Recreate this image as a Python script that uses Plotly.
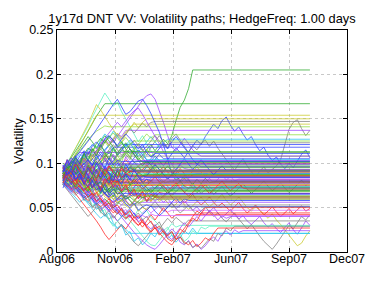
import plotly.graph_objects as go

# Time grid (days): path samples every STEP days from DAY0; frozen paths held to END_DAY
DAY0 = 10
STEP = 7
END_DAY = 423
X_TICK_DAYS = [0, 97, 194, 291, 388, 485]
X_TICK_LABELS = ["Aug06", "Nov06", "Feb07", "Jun07", "Sep07", "Dec07"]
Y_TICKS = [0, 0.05, 0.1, 0.15, 0.2, 0.25]
Y_TICK_LABELS = ["0", "0.05", "0.1", "0.15", "0.2", "0.25"]

# Volatility paths in thousandths (0.085 -> 85); last value = frozen level
blue_paths = [
    [92,97,102,96,104,110,103,98,106,113,107,101,95,100,94,89,95,101,96,90,96,102,108,103,97,104,111,117,112,106,
     113,120,126,121,130,137,144,139,148,152,143,136,141,133,126,130,121,114,118,109,103,107,99,94,100,95,102,110,115,106],
    [90,96,101,95,100,106,112,107,113,119,114,120,126,118,121],
    [86,91,97,103,98,104,110,105,99,106,113,111,118],
    [84,88,94,99,93,87,92,98,104,110,104,98,103,109,115,121,116,110,115,109,103,98,104,110,105],
    [92,88,83,87,92,97,91,86,80,85,90,95,89,84,88,94,100,106,112,106,100,105,111,117,122,116,124,130,124,117,111,104,99,96],
    [88,94,100,106,112,118,125,131,138,145,152,160,166,172,163,155,158,164,170,172,165,156,146,135,121,104,88],
    [80,76,71,75,70,74,79,73,77,78],
    [82,77,72,76,70,65,69,63,58,62,67,61,56,60,65,59,63,65],
    [95,100,94,89,94,100,94,88,83,88,94,89,84,79,84,90,96,91,86,81,86,92,98,93,88,82,87,93,99,105,99,93,98,104,98,92,87,92,97,92,92],
    [85,80,86,81,75,70,75,81,76,71,66,71,77,72,67,62,67,73,79,74,69,72],
    [78,73,68,72,66,61,65,59,54,58,52,47,51,45,40,44,49,43,38,42,47,52,46,41,45,51,56,61,55,60,58],
    [88,83,78,82,87,92,86,81,75,80,85,90,84,79,83,88,82,77,81,86,84],
    [96,101,106,100,95,99,104,99],
    [72,84,76,90,81,95,86,79,92,84,97,88,80,93,86,99,90,91],
    [98,86,94,81,89,76,85,72,80,67,76,64,71,66],
    [90,104,95,108,99,113,103,97,109,101,94,106,98,103,102],
    [80,92,85,97,88,82,95,87,100,91,84,78,89,83,76,88,81,93,85,79,82,80],
    [94,88,91,82,85,78,74,79,70,73,65,62,67,58,61,54,50,55,47,51,53,51],
    [90,97,103,99,108,114,110,119,124,118,127,131,125,120,127,133,128,122,116,121,112,107,111],
]
green_paths = [
    [88,93,98,92,97,103,108,102,96,101,107,112,106,100,105,111,116,110,104,109,115,121,114,120,127,122,131,148,163,171,184,205],
    [92,99,106,113,121,128,136,145,153,160,167],
    [80,85,79,74,78,83,77,72,76,81,86,80,75,70,74,79,84,78,73,77,82,76,71,75,80,74,69,73,78,83,
     77,72,67,71,76,70,65,69,74,68,63,67,72,77,71,66,70,75,80,74,69,73,78,72,67,71,76,81,75,79],
    [88,93,87,92,98,103,97,91,96,102,108,114,108,102,107,113,107,101,102],
    [95,89,94,88,82,87,81,76,80,85,90,84,79,74,79,84,90,95,89,84,88,94,99,93,88,82,87,81,84],
    [80,75,79,73,68,72,67,71,70],
    [83,78,73,77,72,67,62,66,61,56,60,55,50,54,59,63,58,53,57,62,57,60,61],
    [88,95,102,109,116,123,130,124,117,124,131,125,118,111,117,123,116,109,103,97,103,98,92,86,91,97,91,85,80,86,81,76,82,77,83,78,79],
    [84,89,94,99,93,88,92,97,102,96,91,95,95],
    [90,85,80,75,79,74,69,73,78,72,67,71,76,81,75,70,74,79,84,78,73,67,72,77,71,66,70,75,80,74,72,73],
    [88,100,92,106,97,111,102,116,108,121,112,104,117,109,114,113],
    [76,88,80,73,85,77,69,81,73,66,78,70,62,74,67,71,69],
    [92,80,88,95,84,91,78,86,93,82,89,77,85,92,81,87,75,83,90,86,87],
    [84,96,89,101,93,86,98,90,83,95,88,80,92,85,97,89,94,92],
    [100,95,97,88,91,84,80,85,76,79,71,68,73,65,67,60,62,58,64,61,63],
    [86,93,99,106,101,110,117,113,122,128,123,131,126,119,124,116,110,114,106,101],
]
red_paths = [
    [90,94,88,83,87,80,76,81,85,78,72,76,70,65,69,74,68,63,67,61,66,71,64,59,63,68,62,57,61,55,
     60,65,58,53,57,62,56,51,55,50,46,51,56,49,44,48,53,47,42,46,51,45,40,44,49,43,47,52,46,49],
    [90,95,89,94,100,106,100,94,99,104,110,104,98,93,98,104,98,92,97,100],
    [84,78,72,66,60,54,48,42,35,28,20,14,19,25,31,26,33,40,34,28,35,42,36,43,50,44,38,42],
    [92,86,91,85,80,84,78,83,77,72,76,71,74,75],
    [86,91,85,90,95,89,84,88,93,87,92,97,91,86,90,95,89,84,88,93,98,92,87,91,96,90,85,89,94,88,83,87,88],
    [79,74,79,84,78,73,67,62,66,71,65,60,55,59,64,58,52,57,62,68,62,57,62,67,66],
    [81,76,70,74,68,63,58,62,56,51,55,49,44,48,42,37,41,35,30,34,28,23,27,21,16,11,8,14,20,27,33,40,46,43,50],
    [88,84,80,85,79,81],
    [94,89,93,98,92,87,91,96,90,95,92],
    [83,88,82,77,81,86,80,75,70,74,79,84,78,73,68,72,77,82,76,71,75,80,85,79,74,69,73,78,72,67,63,67,72,76,71,66,70,75,80,74,69,73,77,72,71],
    [86,79,83,71,75,68,62,66,57,61,52,55,47,43,49,38,42,34,30,36,27,22,28,19,24,15,12,18,26,22,31,38,35,44],
    [92,104,96,89,101,93,86,98,90,82,94,86,79,91,84,88,86],
    [78,90,83,76,88,80,73,85,78,71,83,76,80,79],
    [96,85,92,80,88,76,84,72,81,69,77,84,73,80,69,76,64,71,60,68,57,65,62],
    [82,94,87,99,91,84,96,88,81,93,86,97,89,82,95,87,91,90],
    [88,83,78,82,73,69,74,64,67,59,55,60,50,53,46,42,47,38,41,33,30,35,26,29,22,18,23,14,17,11,8,13,6,10,16,13,21,27,27],
]
cyan_paths = [
    [84,89,95,100,94,99,105,111,105,110,116,121,115,109,114,120,126,120,113,118,124,130,124,118,123,127],
    [77,72,67,61,56,60,54,49,43,38,42,36,31,26,30,25,21],
    [88,93,98,92,97,102,96,97],
    [84,79,84,89,83,78,82,87,81,76,80,85,79,74,78,83,88,82,77,71,76,81,75,70,74,79,73,68,72,77,82,76,71,75,80,74,69,73,74],
    [76,81,86,80,75,79,84,89,83,78,73,77,82,76,71,75,80,85,79,74,78,83,88,82,77,79,80],
    [84,76,79,68,71,60,56,61,48,52,40,44,33,27,31,19,23,12,16,8,13,21,17,26,22,15,19,11,16,24,20,27,21],
    [90,102,95,88,100,92,85,97,89,82,94,87,91,88],
    [80,91,84,96,88,81,93,85,78,90,83,86,85],
    [96,85,93,81,89,77,86,74,82,70,79,67,75,71,73],
    [92,98,95,104,110,106,115,121,117,126,133,128,136,130,124,118,123,115,108,112,104],
]
aqua_paths = [
    [92,100,108,116,124,133,142,152,161,170,179,172,164,169,158,150,141,133,124,131,122,114,106,98,91,84,78,84,77,71,68],
    [80,74,79,73,67,71,65,59,63,57,51,55,49,43,47,41,35,29,23,17,12,8,7,13,19,25,32,28,30],
    [95,90,95,89,84,88,93,87,82,86,91,86],
    [90,86,91,91],
    [84,79,84,89,94,88,83,87,92,97,91,86,90,95,89,84,88,93,90,89],
    [78,90,82,95,87,80,92,84,96,88,81,93,86,79,91,84,88,87],
    [86,78,82,70,74,61,65,52,56,44,48,36,29,34,41,37,45,40,48,43,47,39,35,30,24,28,19,15,20,12,16,24,20,28,26,29],
    [92,81,88,76,84,72,80,68,77,65,73,69,71],
]
purple_paths = [
    [88,84,80,85,78,74,79,72,76,70,66,71,75,68,63,67,72,65,60,64,58,62,67,61,56,60,54,49,53,58,
     52,47,51,45,41,46,50,44,39,43,48,42,37,41,35,31,36,40,33,28,32,26,22,28,33,25,20,27,35,30],
    [86,92,97,103,98,104,110,116,110,117,123,129,123,130,137,144,151,158,165,171,176,178,172,160,146,131,118,114,121,128,122,115,111,108],
    [88,94,100,95,101,107,113,108,115,121,127,122,128,133,130,137],
    [92,99,104,108,112],
    [90,96,102,97,103,109,115,121,116,122,128,134,140,146,141,148,154,159,162,155,147,138,130,122,113,105,99,92,98,94,93],
    [78,73,77,71,66,61,65,59,54,48,52,46,41,35,39,33,28,22,17,12,8,5,3,8,14,20,26,21,27,33,28,34,40,35,41,47,42,36,41,38,40],
    [80,75,70,74,68,63,67,61,56,60,55,50,54,49,53,58,53,57,55,56],
    [87,82,86,91,85,80,84,89,86,85],
    [82,94,87,99,91,104,96,89,101,93,106,98,110,102,95,107,100,104,103],
    [88,82,85,74,78,70,66,71,61,64,56,52,58,47,50,43,39,44,34,37,30,26,31,22,26,18,14,20,11,8,13,5,9,3,7,13,17,12,20,24,19,25,22,24],
    [94,89,91,83,86,78,82,75,79,84,77,81,73,76,69,72,65,68,61,64,57,60,58,60],
    [76,87,80,92,84,77,89,81,74,86,79,83,82],
    [90,101,94,106,98,91,103,95,88,100,93,97,89,94,92],
]
magenta_paths = [
    [85,90,84,89,94,99,93,98,104,99,93,98,103,97,101,99],
    [76,71,66,70,64,59,63,57,52,56,50,45,49,44,40,44,39,35,39,44,49,44,48,52,47,45,47],
    [90,85,80,84,79,74,78,73,68,72,67,62,66,61,56,60,65,70,64,59,63,68,73,67,62,66,71,76,70,75,80,74,69,73,78,83,77,82,87,81,85,80,82],
    [92,97,91,86,90,84,79,83,78,73,77,82,76,71,75,80,74,79,84,78,76,76],
    [86,98,90,83,95,87,80,92,84,77,89,82,86,84],
    [80,75,78,70,66,71,62,65,58,54,59,50,53,47,43,48,40,44,38,41,39,43,41],
    [98,87,94,82,90,78,86,74,82,89,78,85,73,80,77],
]
yellow_paths = [
    [82,78,74,79,72,68,73,66,62,67,71,64,59,63,57,61,66,60,55,58,63,68,62,57,61,55,50,54,59,53,
     48,52,57,62,56,51,55,60,65,58,53,57,62,56,50,46,51,47,42,38,43,36,31,25,18,12,7,10,18,24],
    [86,94,102,111,119,128,137,146,154],
    [90,99,108,117,126,135,144,155,166,160,152,145,138,131,124,132,139,146,140,146,150],
    [85,91,97,103,97,104,111,105,112,119,126,120,127,134,128,135,140,144],
    [82,77,81,75,70,74,68,73,67,62,66,61,63],
    [88,93,87,82,86,91,85,80,84,89,94,88,83,77,82,87,92,86,81,85,90,95,89,84,79,83,88,93,87,82,86,91,96,90,85,89,84,86],
    [93,88,92,87,82,86,81,76,80,85,79,74,78,83,88,82,77,81,86,80,75,79,84,79],
    [84,96,88,101,92,105,97,110,101,94,107,99,92,104,96,100,98],
    [90,85,88,79,82,74,71,76,67,70,62,59,64,56,59,52,49,54,46,50,48,52,51],
    [76,88,81,73,85,78,70,82,75,68,80,73,77,76],
    [92,81,89,77,85,73,81,88,77,84,72,79,87,76,83,71,78,66,73,61,69,57,64,60],
]
lime_paths = [
    [88,95,102,108,114,120,126,132,136,139,142,141],
    [86,92,98,104,99,105,111,117,112,118,124,118,112,117,123,129,123,116,121,127,133,128,132],
    [88,83,88,82,77,81,86,80,75,79,84,78,73,77,82,76,77],
    [94,89,93,98,92,87,91,96,101,95,89,94,99,105,99,93,88,92,97,91,86,90,95,89,84,88,93,88,91,90],
    [87,82,77,81,75,70,74,69,64,68,72,67,69,68],
    [80,92,85,97,89,102,94,87,99,91,84,96,89,93,91],
    [94,89,92,83,86,79,75,80,71,74,66,63,68,60,63,56,53,58,55,57,59],
    [86,97,90,83,95,88,81,93,86,79,91,84,88,87],
    [88,100,93,105,97,110,102,95,107,99,112,104,97,109,101,114,106,119,111,104,116,108,112],
    [84,91,98,94,103,109,105,113,119,115,124,129,134,128,122,117,121,125],
]
gray_paths = [
    [85,90,96,92,100,95,104,99,92,97,103,108,100,112,118,110,104,115,122,116,109,118,125,131,124,117,128,133,126,119,
     112,120,115,122,126,119,125,117,110,104,98,92,99,105,97,90,84,91,96,89,93,97,104,121,138,146,149,139,131,137],
    [86,81,76,80,74,69,73,67,62,66,71,65,60,55,59,64,58,53,57,51,47,52,57,51,46,50,55,49,44,48,
     53,47,42,46,51,45,40,44,38,34,39,44,37,31,26,31,24,18,12,7,3,9,16,23,30,26,33,40,36,42],
    [88,94,100,95,101,107,113,108,114,120,126,120,126,132,127,133,139,134,140,145,141,146,147],
    [90,95,89,94,100,105,99,104,110,116,110,115,121,115,109,114,120,126,120,114,119,125,131,125,119,121,123],
    [80,75,70,64,68,62,57,51,55,49,43,37,41,35,29,23,17,11,7,12,18,24,30,26,32,38,33,39,35,31,36,35],
    [76,70,64,58,52,46,40,45,51,46,52,57,52,56,53],
    [92,97,91,96,101,106,100,105,110,108],
    [86,81,85,79,74,78,73,68,72,77,71,66,70,75,80,74,69,63,67,72,66,61,65,70,75,69,64,68,73,67,72,77,71,66,70,69],
    [84,90,95,89,94,99,93,88,92,97,103,97,92,96,101,95,96],
    [82,74,77,66,70,58,62,50,54,45,41,47,38,43,49,42,46,39,44,36,40,33,29,34,24,19,23,14,17,9,12,5,8,4,10,15,12,21,18,27,24,29],
    [90,101,94,87,99,91,84,96,88,81,93,86,79,91,84,88,85],
    [78,89,82,75,87,79,72,84,77,70,82,75,79,78],
    [96,84,92,80,88,76,85,73,81,69,78,66,74,70,72],
    [86,98,91,103,95,88,100,92,85,97,90,94,92],
]

groups = [
    (blue_paths, "#2a3cff"),
    (green_paths, "#2aa82a"),
    (red_paths, "#ff2020"),
    (cyan_paths, "#22c4ee"),
    (aqua_paths, "#55f0c0"),
    (purple_paths, "#9a40ff"),
    (magenta_paths, "#d060ff"),
    (yellow_paths, "#c8c828"),
    (lime_paths, "#8cdc3c"),
    (gray_paths, "#7f7f7f"),
]

fig = go.Figure()
maxlen = max(len(p) for p, _ in groups)
for k in range(maxlen):
    for paths, color in groups:
        if k < len(paths):
            p = paths[k]
            xs = [DAY0 + STEP * i for i in range(len(p))] + [END_DAY]
            ys = [v / 1000 for v in p] + [p[-1] / 1000]
            fig.add_trace(go.Scatter(x=xs, y=ys, mode="lines",
                                     line=dict(color=color, width=0.75),
                                     hoverinfo="skip", showlegend=False))

font = dict(family="Liberation Sans, Arial", size=12.5, color="black")
axis_common = dict(showline=True, linecolor="black", linewidth=1, mirror="ticks",
                   ticks="inside", ticklen=4, tickcolor="black",
                   showgrid=True, gridcolor="#c8c8c8", griddash="dot", gridwidth=1,
                   zeroline=False, tickfont=font)

fig.update_xaxes(range=[0, 485], tickvals=X_TICK_DAYS, ticktext=X_TICK_LABELS,
                 ticklabelstandoff=-5, **axis_common)
fig.update_yaxes(range=[0, 0.25], tickvals=Y_TICKS, ticktext=Y_TICK_LABELS, **axis_common)

fig.update_layout(
    width=374, height=281,
    margin=dict(l=49, r=35, t=22, b=37),
    paper_bgcolor="white", plot_bgcolor="white",
    title=dict(text="1y17d DNT VV: Volatility paths; HedgeFreq: 1.00 days",
               font=dict(family="Liberation Sans, Arial", size=12.8, color="black"),
               x=0.5, xanchor="center", xref="paper", y=1 - 11 / 281, yanchor="middle", yref="container"),
    annotations=[dict(text="Volatility", textangle=-90, xref="paper", yref="paper",
                      x=-(49 - 11) / 290, y=0.5, xanchor="center", yanchor="middle", showarrow=False,
                      font=font)],
)

fig.write_html("out.html")
